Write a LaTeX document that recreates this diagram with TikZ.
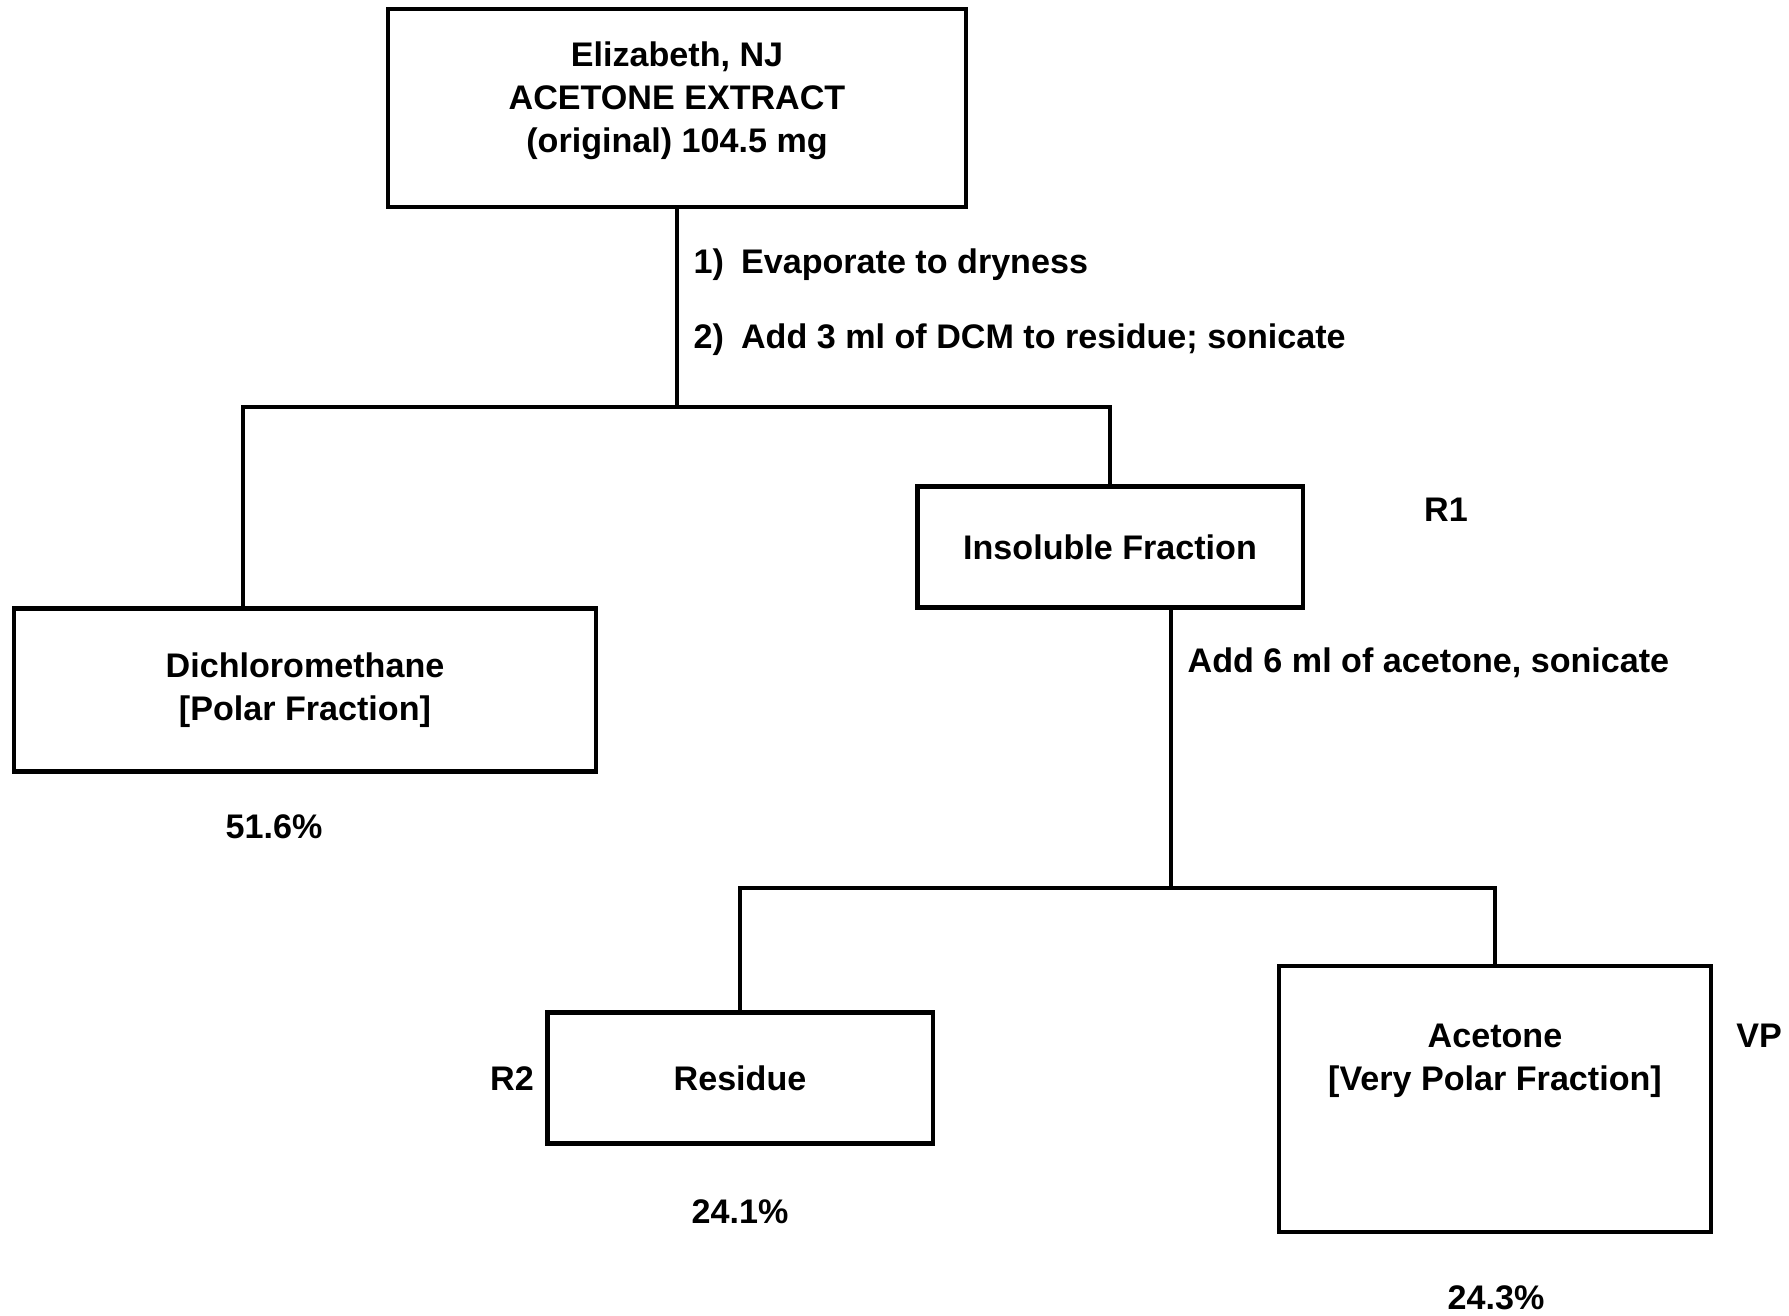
\documentclass[tikz,border=0pt]{standalone}
\usepackage{fontspec}
\setmainfont{Liberation Sans}
\usetikzlibrary{positioning}

\begin{document}
\begin{tikzpicture}[x=0.01cm,y=-0.01cm,
  every node/.style={font=\bfseries\fontsize{9.7}{12.2}\selectfont},
  block/.style={draw,rectangle,line width=1.2pt,inner sep=0pt,outer sep=0pt,align=center},
  note/.style={inner sep=0pt,align=center},
  link/.style={line width=1pt}]

        \useasboundingbox (0,0) rectangle (1789,1316);

        % boxes
        \node[block,minimum width=5.78cm,minimum height=1.98cm] (extract) at (677,108) {};
        \node[note,yshift=0.07cm] (extracttext) at (extract) {Elizabeth, NJ\\ACETONE EXTRACT\\(original) 104.5 mg};

        \node[block,minimum width=5.82cm,minimum height=1.63cm] (dcm) at (305,690) {Dichloromethane\\{[Polar Fraction]}};
        \node[block,minimum width=3.85cm,minimum height=1.21cm] (insol) at (1110,547) {Insoluble Fraction};
        \node[block,minimum width=3.85cm,minimum height=1.31cm] (residue) at (740,1078) {Residue};
        \node[block,minimum width=4.32cm,minimum height=2.66cm] (acetone) at (1495,1099) {};
        \node[note,yshift=0.38cm] (acetonetext) at (acetone) {Acetone\\{[Very Polar Fraction]}};

        % connectors
        \coordinate (split1) at (677,407);
        \coordinate (dcmin) at (243,608);
        \coordinate (insout) at (1171,608);
        \coordinate (split2) at (1171,888);

        \draw[link] (extract.south) -- (split1);
        \draw[link] (insol.north) |- (split1) -| (dcmin);
        \draw[link] (insout) -- (split2);
        \draw[link] (residue.north) |- (split2) -| (acetone.north);

        % steps
        \node[note,anchor=west] (step1) at (693,265) {1)\enspace Evaporate to dryness};
        \node[note,anchor=west] (step2) at (693,340) {2)\enspace Add 3 ml of DCM to residue; sonicate};
        \node[note,anchor=west] (step3) at (1187,663) {Add 6 ml of acetone, sonicate};

        % tags and yields
        \node[note] (r1) at (1446,510) {R1};
        \node[note] (r2) at (512,1079) {R2};
        \node[note] (vp) at (1759,1036) {VP};
        \node[note] (ydcm) at (274,827) {51.6\%};
        \node[note] (yres) at (740,1212) {24.1\%};
        \node[note] (yace) at (1496,1298) {24.3\%};
      \end{tikzpicture}
\end{document}
